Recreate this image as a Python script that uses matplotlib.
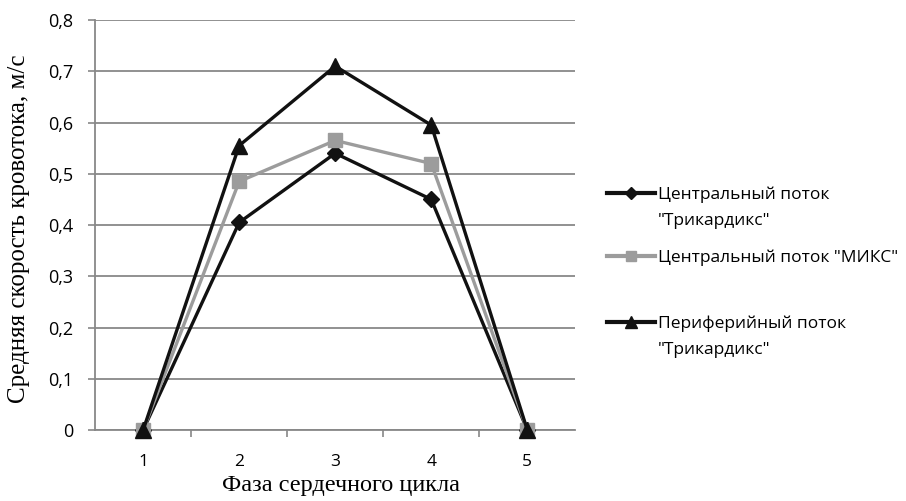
import matplotlib.pyplot as plt
from matplotlib.lines import Line2D

phases = [1, 2, 3, 4, 5]
central_tri = [0, 0.405, 0.54, 0.45, 0]
central_mix = [0, 0.485, 0.565, 0.52, 0]
periph_tri = [0, 0.555, 0.71, 0.595, 0]

labels = ['Центральный поток\n"Трикардикс"',
          'Центральный поток "МИКС"',
          'Периферийный поток\n"Трикардикс"']
yticks = [0, 0.1, 0.2, 0.3, 0.4, 0.5, 0.6, 0.7, 0.8]
ytick_labels = ['0', '0,1', '0,2', '0,3', '0,4', '0,5', '0,6', '0,7', '0,8']

sans = ['Open Sans', 'DejaVu Sans']
serif = ['Liberation Serif', 'DejaVu Serif']

fig = plt.figure(figsize=(9.06, 5.01), dpi=100)
ax = fig.add_axes([0.105, 0.1417, 0.53, 0.8183])

styles = [
    dict(color='#111111', marker='D', markersize=8),
    dict(color='#9c9c9c', marker='s', markersize=10),
    dict(color='#111111', marker='^', markersize=11),
]
for vals, st in zip([central_tri, central_mix, periph_tri], styles):
    ax.plot(phases, vals, lw=2.4, clip_on=False, zorder=3, **st)

ax.set_xlim(0.5, 5.5)
ax.set_ylim(0, 0.8)
ax.set_yticks(yticks)
ax.set_yticklabels(ytick_labels, fontsize=13, family=sans)
ax.set_xticks(phases)
ax.set_xticklabels([str(p) for p in phases], fontsize=12.5, family=sans)
ax.set_xticks([1.5, 2.5, 3.5, 4.5], minor=True)
ax.tick_params(axis='x', which='major', length=0, pad=17)
ax.tick_params(axis='x', which='minor', length=5, color='#888888', width=1.2)
ax.tick_params(axis='y', length=5, color='#888888', width=1.2, pad=11)

ax.grid(axis='y', color='#888888', lw=1.3)
ax.set_axisbelow(True)
for s in ['top', 'right']:
    ax.spines[s].set_visible(False)
for s in ['left', 'bottom']:
    ax.spines[s].set_color('#888888')
    ax.spines[s].set_linewidth(1.3)

ax.set_xlabel('Фаза сердечного цикла', fontsize=17.5, family=serif)
ax.xaxis.set_label_coords(0.512, -0.11)
ax.set_ylabel('Средняя скорость кровотока, м/с', fontsize=18, family=serif)
ax.yaxis.set_label_coords(-0.135, 0.49)

# legend drawn by hand so the handle sits on the first text line
W, H = 906, 501
leg_y = [193, 256, 322]
for lab, st, y in zip(labels, styles, leg_y):
    fy = 1 - y / H
    fig.add_artist(Line2D([607 / W, 655 / W], [fy, fy], color=st['color'], lw=3,
                          transform=fig.transFigure))
    fig.add_artist(Line2D([631 / W], [fy], color=st['color'], marker=st['marker'],
                          markersize=st['markersize'] * 0.75, transform=fig.transFigure))
    for i, line in enumerate(lab.split('\n')):
        fig.text(658 / W, 1 - (y + 2 + i * 26) / H, line, fontsize=12.5,
                 family=sans, va='center', ha='left')

fig.savefig('out.png', dpi=100)
